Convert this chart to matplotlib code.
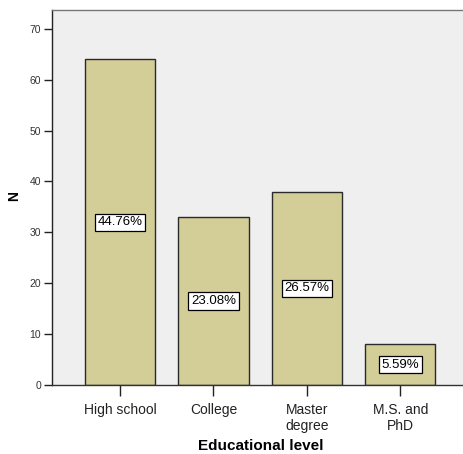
import numpy as np
import matplotlib
matplotlib.use('Agg')
import matplotlib.pyplot as plt

plt.rcParams['font.family'] = ['Liberation Sans', 'DejaVu Sans']

categories = ["High school", "College", "Master\ndegree", "M.S. and\nPhD"]
counts = [64, 33, 38, 8]
percent_labels = ["44.76%", "23.08%", "26.57%", "5.59%"]
yticks = [0, 10, 20, 30, 40, 50, 60, 70]

W, H = 464, 454
fig = plt.figure(figsize=(W / 100, H / 100), dpi=100)
ax = fig.add_axes([52 / W, 69 / H, 1 - 52 / W, 375 / H])
ax.set_facecolor('#efefef')

x = np.arange(len(categories))
ax.bar(x, counts, width=0.75, color='#d3ce97', edgecolor='#2a2a2a', linewidth=1.0, zorder=2)

# percentage boxes at half bar height
for xi, c, lab in zip(x, counts, percent_labels):
    ax.text(xi, c / 2, lab, ha='center', va='center', fontsize=9.5, zorder=3,
            bbox=dict(boxstyle='square,pad=0.2', facecolor='white', edgecolor='black', linewidth=0.9))

ax.set_xlim(-0.727, 3.68)
ax.set_ylim(0, 73.7)
ax.set_yticks(yticks)
ax.set_xticks(x)
ax.set_xticklabels(categories, fontsize=10, linespacing=1.15)
ax.tick_params(axis='y', labelsize=7.5, length=6, width=1, colors='#222222', labelcolor='#333333', pad=2)
ax.tick_params(axis='x', length=8, width=1, colors='#222222', pad=5)

ax.spines['right'].set_visible(False)
ax.spines['top'].set_color('#777777')
ax.spines['left'].set_color('#222222')
ax.spines['bottom'].set_color('#333333')
for s in ax.spines.values():
    s.set_linewidth(1.0)

fig.text(14 / W, 1 - 196 / H, 'N', rotation=90, ha='center', va='center', fontsize=10, fontweight='bold')
fig.text(261 / W, 1 - 446 / H, 'Educational level', ha='center', va='center', fontsize=11, fontweight='bold')

fig.savefig('out.png', dpi=100)
